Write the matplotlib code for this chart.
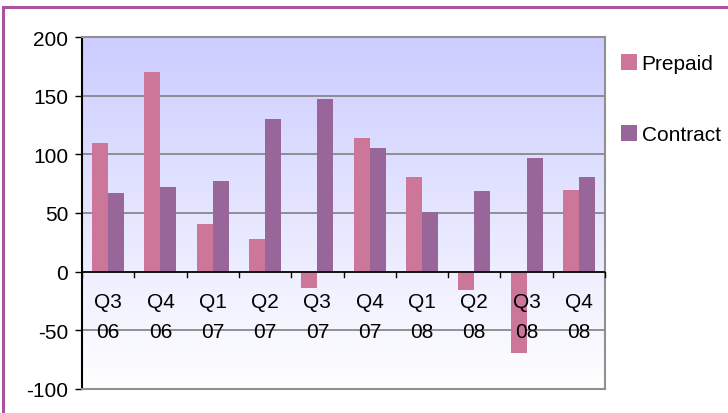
import numpy as np
import matplotlib.pyplot as plt
from matplotlib.patches import Rectangle

plt.rcParams['font.family'] = ['Liberation Sans', 'DejaVu Sans']
plt.rcParams['axes.unicode_minus'] = False

quarters = ["Q3\n06", "Q4\n06", "Q1\n07", "Q2\n07", "Q3\n07",
            "Q4\n07", "Q1\n08", "Q2\n08", "Q3\n08", "Q4\n08"]
prepaid = [110, 170, 41, 28, -14, 114, 81, -16, -69, 70]
contract = [67, 72, 77, 130, 147, 105, 51, 69, 97, 81]

W, H = 728, 414
fig = plt.figure(figsize=(W / 100, H / 100), dpi=100)
ax = fig.add_axes([82 / W, (H - 390) / H, (605 - 82) / W, (390 - 38) / H])

x = np.arange(len(quarters))
bw = 0.306
fs = 15

# gradient background (lavender top -> white bottom)
grad = np.linspace(0, 1, 256).reshape(-1, 1)
top = np.array([0.80, 0.80, 1.0])
bot = np.array([1.0, 1.0, 1.0])
img = top + (bot - top) * grad[:, :, None]
ax.imshow(img, extent=[-0.5, len(quarters) - 0.5, -100, 200], aspect='auto',
          zorder=0, origin='upper')

ax.bar(x - bw / 2, prepaid, bw, color='#CC7799', label='Prepaid', zorder=3)
ax.bar(x + bw / 2, contract, bw, color='#996699', label='Contract', zorder=3)

ax.set_xlim(-0.5, len(quarters) - 0.5)
ax.set_ylim(-100, 200)
ax.set_yticks(np.arange(-100, 201, 50))
ax.yaxis.grid(True, color='#808080', lw=1.2, zorder=1)
ax.tick_params(axis='y', labelsize=fs, length=5, width=1, pad=5, direction='out')

# category labels under the zero line, ticks at boundaries
ax.set_xticks([])
for i, q in enumerate(quarters):
    qn, yr = q.split("\n")
    ax.text(x[i], -25.8, qn, ha='center', va='center', fontsize=fs, zorder=4)
    ax.text(x[i], -51.4, yr, ha='center', va='center', fontsize=fs, zorder=4)
for b in np.arange(-0.5, len(quarters), 1.0):
    ax.plot([b, b], [0, -4.5], color='black', lw=1, zorder=4, clip_on=False)
ax.axhline(0, color='black', lw=1.2, zorder=4)

for s in ['top', 'right', 'bottom']:
    ax.spines[s].set_color('#909090')
    ax.spines[s].set_linewidth(1.5)
ax.spines['left'].set_color('black')
ax.spines['left'].set_linewidth(1.5)

leg = fig.legend(loc='upper left', bbox_to_anchor=(613 / W, (H - 47) / H),
                 frameon=False, fontsize=fs, handlelength=0.77, handleheight=0.77,
                 handletextpad=0.2, labelspacing=2.48, borderaxespad=0)

# outer chart border (only top and left visible)
fig.patches.append(Rectangle((3 / W, -0.05), 1.2, (H - 7.5) / H + 0.05,
                             transform=fig.transFigure, fill=False,
                             edgecolor='#A8559E', lw=2.2))

fig.savefig('out.png', dpi=100)
